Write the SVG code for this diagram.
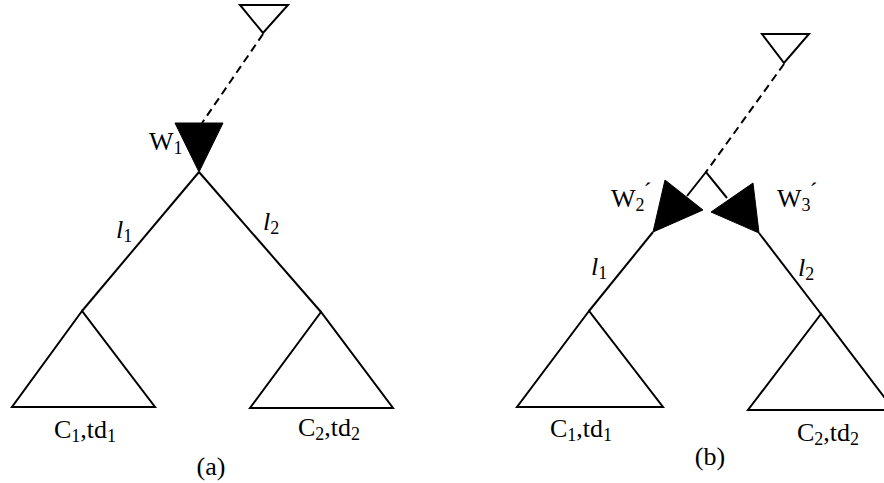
<svg xmlns="http://www.w3.org/2000/svg" width="884" height="483" viewBox="0 0 884 483">
<style>
.ln{stroke:#000;stroke-width:2;fill:none}
.ds{stroke:#000;stroke-width:2;fill:none;stroke-dasharray:8 5}
.op{stroke:#000;stroke-width:2;fill:#fff;stroke-linejoin:miter}
.fl{stroke:#000;stroke-width:1;fill:#000}
text{font-family:"Liberation Serif","Times New Roman",serif;font-size:26px;fill:#000}
.it{font-style:italic}
.sub{font-size:18px}
.pr{font-size:24px}
</style>
<rect width="884" height="483" fill="#fff"/>
<g id="connectors">
<line class="ds" x1="263" y1="34" x2="202" y2="123"/>
<line class="ln" x1="199" y1="172" x2="82" y2="311"/>
<line class="ln" x1="199" y1="172" x2="321" y2="312"/>
<line class="ds" x1="784" y1="64" x2="706" y2="172"/>
<polyline class="ln" points="687,196 706,172 727,198"/>
<line class="ln" x1="653" y1="232" x2="589" y2="311"/>
<line class="ln" x1="759" y1="233" x2="821" y2="314"/>
</g>
<g id="a-root"><polygon class="op" points="240,5 288,5 263,33"/></g>
<g id="a-w1"><polygon class="fl" points="175,123 223,123 199,172"/>
<text x="149" y="150">W<tspan class="sub" dy="4">1</tspan></text></g>
<g id="a-l1"><text class="it" x="116" y="238">l<tspan class="sub" font-style="normal" dy="4">1</tspan></text></g>
<g id="a-l2"><text class="it" x="263" y="230">l<tspan class="sub" font-style="normal" dy="4">2</tspan></text></g>
<g id="a-c1"><polygon class="op" points="82,311 12,407 155,407"/>
<text x="54" y="438">C<tspan class="sub" dy="4">1</tspan><tspan dy="-4">,td</tspan><tspan class="sub" dy="4">1</tspan></text></g>
<g id="a-c2"><polygon class="op" points="321,312 250,408 393,408"/>
<text x="298" y="436">C<tspan class="sub" dy="4">2</tspan><tspan dy="-4">,td</tspan><tspan class="sub" dy="4">2</tspan></text></g>
<text x="211" y="475" text-anchor="middle">(a)</text>
<g id="b-root"><polygon class="op" points="762,34 809,34 784,63"/></g>
<g id="b-w2"><polygon class="fl" points="665,180 703,210 653,232"/>
<text x="611" y="207">W<tspan class="sub" dy="4">2</tspan><tspan class="pr" dx="-1" dy="-12">´</tspan></text></g>
<g id="b-w3"><polygon class="fl" points="711,212 753,183 759,233"/>
<text x="777" y="207">W<tspan class="sub" dy="4">3</tspan><tspan class="pr" dx="-1" dy="-12">´</tspan></text></g>
<g id="b-l1"><text class="it" x="591" y="275">l<tspan class="sub" font-style="normal" dy="4">1</tspan></text></g>
<g id="b-l2"><text class="it" x="798" y="276">l<tspan class="sub" font-style="normal" dy="4">2</tspan></text></g>
<g id="b-c1"><polygon class="op" points="589,311 517,407 663,407"/>
<text x="550" y="437">C<tspan class="sub" dy="4">1</tspan><tspan dy="-4">,td</tspan><tspan class="sub" dy="4">1</tspan></text></g>
<g id="b-c2"><polygon class="op" points="821,314 748,410 894,410"/>
<text x="797" y="441">C<tspan class="sub" dy="4">2</tspan><tspan dy="-4">,td</tspan><tspan class="sub" dy="4">2</tspan></text></g>
<text x="710" y="465" text-anchor="middle">(b)</text>
</svg>
